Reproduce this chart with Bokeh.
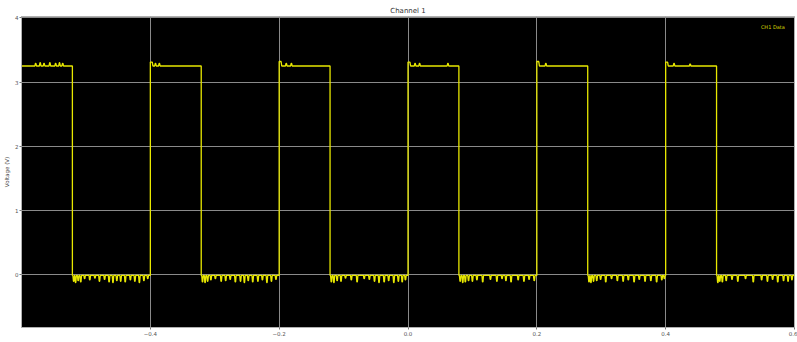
from bokeh.plotting import figure
from bokeh.models import Range1d, Label, FixedTicker
from bokeh.embed import file_html
from bokeh.resources import INLINE

# Square-wave capture of channel 1 (time in ms, voltage in V)
high_level = 3.25
low_level = -0.01
rise_times = [-0.4, -0.2, 0.0, 0.2, 0.4]
fall_times = [-0.521, -0.321, -0.121, 0.079, 0.279, 0.479]
t_start = -0.6
t_end = 0.6

# Overshoot right after each rising edge
overshoot_values = [3.31, 3.32, 3.31, 3.32, 3.31]

# Short downward glitches seen on the low level
low_glitch_times = [
    -0.519, -0.516, -0.512, -0.508, -0.502, -0.494, -0.486, -0.479, -0.471,
    -0.464, -0.458, -0.452, -0.446, -0.439, -0.431, -0.424, -0.417, -0.410, -0.404,
    -0.319, -0.315, -0.311, -0.306, -0.299, -0.290, -0.283, -0.276, -0.268,
    -0.260, -0.254, -0.248, -0.241, -0.233, -0.226, -0.219, -0.212, -0.205,
    -0.119, -0.115, -0.110, -0.104, -0.097, -0.088, -0.079, -0.068, -0.060,
    -0.052, -0.045, -0.037, -0.030, -0.022, -0.015, -0.009, -0.004,
    0.081, 0.085, 0.089, 0.094, 0.100, 0.107, 0.116, 0.128, 0.138,
    0.146, 0.152, 0.160, 0.171, 0.180, 0.188, 0.196,
    0.281, 0.284, 0.288, 0.293, 0.299, 0.307, 0.316, 0.325, 0.334,
    0.342, 0.351, 0.359, 0.368, 0.377, 0.386, 0.394, 0.398,
    0.481, 0.484, 0.488, 0.494, 0.503, 0.512, 0.524, 0.536, 0.549,
    0.558, 0.566, 0.574, 0.583, 0.590, 0.596,
]
low_glitch_values = [
    -0.10, -0.12, -0.09, -0.11, -0.06, -0.08, -0.05, -0.10, -0.07,
    -0.11, -0.12, -0.09, -0.10, -0.11, -0.08, -0.10, -0.12, -0.09, -0.06,
    -0.11, -0.12, -0.10, -0.08, -0.06, -0.10, -0.09, -0.07, -0.11,
    -0.10, -0.12, -0.09, -0.11, -0.10, -0.08, -0.12, -0.10, -0.07,
    -0.11, -0.12, -0.09, -0.10, -0.05, -0.08, -0.11, -0.06, -0.07,
    -0.10, -0.12, -0.11, -0.09, -0.12, -0.10, -0.11, -0.08,
    -0.10, -0.12, -0.11, -0.09, -0.10, -0.08, -0.11, -0.07, -0.10,
    -0.06, -0.09, -0.11, -0.08, -0.10, -0.07, -0.09,
    -0.11, -0.12, -0.10, -0.09, -0.07, -0.11, -0.06, -0.09, -0.10,
    -0.08, -0.11, -0.07, -0.10, -0.09, -0.11, -0.08, -0.06,
    -0.12, -0.10, -0.11, -0.09, -0.07, -0.10, -0.06, -0.11, -0.08,
    -0.10, -0.07, -0.11, -0.09, -0.10, -0.08,
]

# Small upward spikes on the high level
high_glitch_times = [-0.578, -0.571, -0.565, -0.556, -0.547, -0.541, -0.536,
                     -0.392, -0.386, -0.189, -0.181, 0.011, 0.018, 0.062,
                     0.214, 0.413, 0.438]
high_glitch_values = [3.29, 3.30, 3.29, 3.30, 3.29, 3.30, 3.29,
                      3.29, 3.29, 3.29, 3.29, 3.29, 3.29, 3.29,
                      3.29, 3.29, 3.28]

# Build the trace as a sequence of events ordered in time
events = []
for t in rise_times:
    events.append((t, "rise"))
for t in fall_times:
    events.append((t, "fall"))
for t, v in zip(low_glitch_times, low_glitch_values):
    events.append((t, ("glitch", v)))
for t, v in zip(high_glitch_times, high_glitch_values):
    events.append((t, ("glitch", v)))
events.sort(key=lambda e: e[0])

xs = [t_start]
ys = [high_level]
level = high_level
rise_idx = 0
half_w = 0.0012
for t, kind in events:
    if kind == "rise":
        xs += [t, t, t + 0.003, t + 0.004]
        ys += [level, overshoot_values[rise_idx], overshoot_values[rise_idx], high_level]
        rise_idx += 1
        level = high_level
    elif kind == "fall":
        xs += [t, t]
        ys += [level, low_level]
        level = low_level
    else:
        v = kind[1]
        xs += [t - half_w, t - half_w * 0.3, t + half_w * 0.3, t + half_w]
        ys += [level, v, v, level]
xs.append(t_end)
ys.append(level)

p = figure(
    width=797, height=342,
    output_backend="svg", toolbar_location=None,
    x_range=Range1d(-0.6, 0.6), y_range=Range1d(-0.82, 4.02),
    min_border_left=21, min_border_right=3, min_border_top=16, min_border_bottom=15,
    title="Channel 1",
)

p.background_fill_color = "black"
p.border_fill_color = "white"
p.outline_line_color = "#b0b0b0"
p.outline_line_width = 1

p.title.text_font = "DejaVu Sans"
p.title.text_font_size = "7px"
p.title.text_font_style = "normal"
p.title.text_color = "#333333"
p.title.align = "center"
p.title.standoff = 4

p.line(xs, ys, line_color="#e8e800", line_width=1.3)

p.xaxis.ticker = FixedTicker(ticks=[-0.4, -0.2, 0.0, 0.2, 0.4, 0.6])
p.yaxis.ticker = FixedTicker(ticks=[0, 1, 2, 3, 4])
p.xaxis.major_label_overrides = {-0.4: "\u22120.4", -0.2: "\u22120.2", 0.0: "0.0",
                                 0.2: "0.2", 0.4: "0.4", 0.6: "0.6"}

for ax in (p.xaxis, p.yaxis):
    ax.major_label_text_font = "DejaVu Sans"
    ax.major_label_text_font_size = "5.5px"
    ax.major_label_text_color = "#555555"
    ax.major_tick_out = 2
    ax.major_tick_in = 0
    ax.minor_tick_out = 0
    ax.minor_tick_in = 0
    ax.major_tick_line_color = "#777777"
    ax.axis_line_color = "#b0b0b0"
    ax.major_label_standoff = 1

p.yaxis.axis_label = "Voltage (V)"
p.yaxis.axis_label_text_font = "DejaVu Sans"
p.yaxis.axis_label_text_font_size = "5.5px"
p.yaxis.axis_label_text_font_style = "normal"
p.yaxis.axis_label_text_color = "#444444"
p.yaxis.axis_label_standoff = 2

p.xgrid.grid_line_color = "#8a8a8a"
p.ygrid.grid_line_color = "#8a8a8a"
p.xgrid.grid_line_width = 1
p.ygrid.grid_line_width = 1

# x-axis title sits just under the tick labels
p.add_layout(Label(x=0.0, y=-14.5, x_units="data", y_units="screen",
                   text="Time (ms)", text_font_size="5px", text_font="DejaVu Sans",
                   text_color="#444444", text_align="center", text_baseline="bottom"))

# channel legend entry (text only) in the upper right corner
p.add_layout(Label(x=0.585, y=3.86, text="CH1 Data", text_font_size="5px",
                   text_font="DejaVu Sans", text_color="#d8d800",
                   text_align="right", text_baseline="middle"))

open("out.html", "w").write(file_html(p, INLINE))
